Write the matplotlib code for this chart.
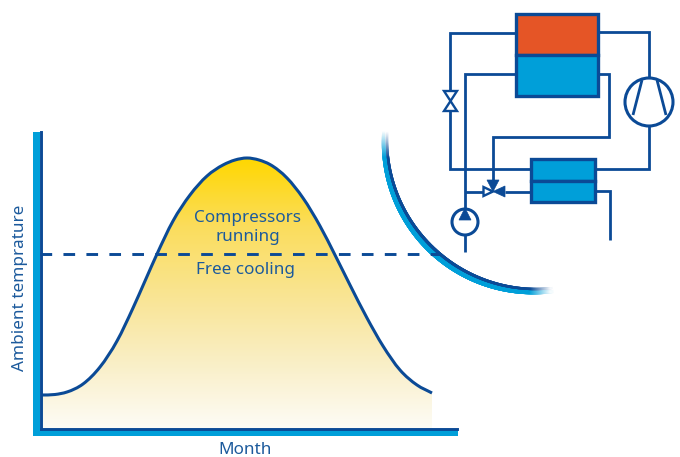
import matplotlib
matplotlib.use("Agg")
import matplotlib.pyplot as plt
import numpy as np
from matplotlib.collections import LineCollection
from matplotlib.colors import LinearSegmentedColormap, to_rgb
from matplotlib.patches import Circle, PathPatch, Polygon, Rectangle
from matplotlib.path import Path

DARK = "#0B4A96"
LIGHT = "#009FD9"
ORANGE = "#E55526"
TEXT = "#1C5A9C"

# curve: month position and height above the x axis (px units)
month = [0, 14, 26, 42, 59, 76, 92, 104, 116, 132, 149, 166, 182, 194, 206, 218, 229, 246,
         262, 279, 294, 309, 326, 342, 359, 376, 391]
temperature = [33.5, 34, 36.5, 44.5, 61.5, 87.5, 120.5, 147.5, 174.5, 207.5, 233.5, 252.5,
               263.5, 268.5, 270.5, 268.5, 264, 250.5, 230.5, 202.5, 173.5, 143.5, 110.5,
               82.5, 58.5, 43.5, 35.5]
threshold = 175

x_label = "Month"
y_label = "Ambient temprature"
upper_label = "Compressors"
upper_label_2 = "running"
lower_label = "Free cooling"


def smooth_path(xs, ys):
    # cubic pieces through the read points
    xs, ys = np.asarray(xs, float), np.asarray(ys, float)
    slope = np.gradient(ys, xs)
    verts = [(xs[0], ys[0])]
    codes = [Path.MOVETO]
    for i in range(len(xs) - 1):
        h = (xs[i + 1] - xs[i]) / 3
        verts += [(xs[i] + h, ys[i] + slope[i] * h),
                  (xs[i + 1] - h, ys[i + 1] - slope[i + 1] * h),
                  (xs[i + 1], ys[i + 1])]
        codes += [Path.CURVE4] * 3
    return verts, codes


fig = plt.figure(figsize=(6.8, 4.57), dpi=100)
W, H = 680, 457

# chart axes, origin at the inner corner of the axis bars
ax = fig.add_axes([41 / W, 1 - 428.5 / H, 416 / W, 296.5 / H])
ax.set_zorder(2)
ax.patch.set_alpha(0)
ax.set_xticks([])
ax.set_yticks([])
for s in ["top", "right"]:
    ax.spines[s].set_visible(False)
for s in ["left", "bottom"]:
    ax.spines[s].set_color(DARK)
    ax.spines[s].set_linewidth(2.1)
    ax.spines[s].set_zorder(5)

# yellow gradient below the curve
cmap = LinearSegmentedColormap.from_list(
    "sun", [(0, "#FFD700"), (0.25, "#FBDD5C"), (0.55, "#F9E69C"), (0.8, "#FAF1CF"), (1, "#FDFCF6")])
im = ax.imshow(np.linspace(0, 1, 256)[:, None], cmap=cmap, aspect="auto",
               extent=[0, 391, 0, max(temperature)], origin="upper", zorder=1)
verts, codes = smooth_path(month, temperature)
clip = PathPatch(Path(verts + [(391, 0), (0, 0), (0, 34)],
                      codes + [Path.LINETO, Path.LINETO, Path.LINETO]),
                 fc="none", ec="none", transform=ax.transData)
ax.add_patch(clip)
im.set_clip_path(clip)
ax.set_xlim(0, 416)
ax.set_ylim(0, 296.5)

ax.add_patch(PathPatch(Path(verts, codes), fc="none", ec=DARK, lw=2.2, capstyle="butt", zorder=3))
ax.plot([-1, 399], [threshold, threshold], color=DARK, lw=2.1, dashes=(4.0, 3.87), zorder=3,
        clip_on=False)

# overlay in image pixels for the axis bars, arc and circuit diagram
ov = fig.add_axes([0, 0, 1, 1])
ov.set_zorder(3)
ov.set_xlim(0, W)
ov.set_ylim(H, 0)
ov.axis("off")
ov.patch.set_alpha(0)

bars = fig.add_axes([0, 0, 1, 1])
bars.set_zorder(1)
bars.set_xlim(0, W)
bars.set_ylim(H, 0)
bars.axis("off")
bars.add_patch(Rectangle((33, 132), 6.7, 303.5, fc=LIGHT, ec="none"))
bars.add_patch(Rectangle((33, 430), 425, 5.5, fc=LIGHT, ec="none"))

# fading arc, blended into white at both ends
theta = np.radians(np.linspace(183, 84, 300))
fade = np.clip(np.minimum((theta[0] - theta) / np.radians(10),
                          (theta - theta[-1]) / np.radians(8)), 0, 1)
swell = np.sin(np.linspace(0, np.pi, 300))
for r, col, lw0, lw1, z in [(152.5, LIGHT, 2.2, 4.2, 4), (149, DARK, 1.6, 2.1, 5)]:
    pts = np.column_stack([536 + r * np.cos(theta), 140 + r * np.sin(theta)])
    segs = np.stack([pts[:-1], pts[1:]], axis=1)
    rgb = 1 - (1 - np.array(to_rgb(col)))[None, :] * fade[:-1, None]
    bars.add_collection(LineCollection(segs, colors=rgb, linewidths=lw0 + (lw1 - lw0) * swell[:-1],
                                       capstyle="projecting", zorder=z))

# circuit diagram
pipe = dict(color=DARK, lw=2.0, solid_joinstyle="miter", solid_capstyle="butt", zorder=3)
ov.plot([516, 450, 450, 531], [33, 33, 169, 169], **pipe)
ov.plot([516, 465, 465], [74, 74, 209], **pipe)
ov.plot([465, 465], [235, 252], **pipe)
ov.plot([598, 609, 609, 493, 493], [74, 74, 137, 137, 182], **pipe)
ov.plot([465, 483], [191.5, 191.5], **pipe)
ov.plot([505, 531], [191.5, 191.5], **pipe)
ov.plot([598, 649, 649], [32, 32, 78], **pipe)
ov.plot([649, 649, 595], [126, 169, 169], **pipe)
ov.plot([595, 610, 610], [191, 191, 240], **pipe)
ov.plot([642, 633], [80, 115], **pipe)
ov.plot([657, 666], [80, 115], **pipe)

box = dict(ec=DARK, lw=2.4, zorder=4, joinstyle="miter")
ov.add_patch(Rectangle((516, 14), 82, 41, fc=ORANGE, **box))
ov.add_patch(Rectangle((516, 55), 82, 41, fc=LIGHT, **box))
ov.add_patch(Rectangle((531, 159), 64, 22, fc=LIGHT, **box))
ov.add_patch(Rectangle((531, 181), 64, 21, fc=LIGHT, **box))

ov.add_patch(Circle((649, 102), 24, fc="none", ec=DARK, lw=2.2, zorder=4))
ov.add_patch(Circle((465, 222), 13, fc="none", ec=DARK, lw=2.2, zorder=4))
ov.add_patch(Polygon([(459, 220), (471, 220), (465, 208)], fc=DARK, ec=DARK, lw=0.5, zorder=4))

hollow = dict(fc="white", ec=DARK, lw=1.7, zorder=4, joinstyle="miter")
ov.add_patch(Polygon([(444, 91), (457, 91), (450.5, 101)], **hollow))
ov.add_patch(Polygon([(444, 111), (457, 111), (450.5, 101)], **hollow))
ov.add_patch(Polygon([(483.5, 187), (483.5, 196), (493, 191.5)], **hollow))
ov.add_patch(Polygon([(487, 180), (499, 180), (493, 191.5)], fc=DARK, ec=DARK, lw=0.5, zorder=4))
ov.add_patch(Polygon([(505, 186), (505, 197), (493, 191.5)], fc=DARK, ec=DARK, lw=0.5, zorder=4))

font = dict(family="Noto Sans", color=TEXT, ha="center", va="center", fontsize=12.3)
ov.text(247.5, 218, upper_label, **font)
ov.text(247.5, 237, upper_label_2, **font)
ov.text(246, 269.5, lower_label, **font)
ov.text(245.5, 450, x_label, **font)
ov.text(20, 288, y_label, rotation=90, **font)

fig.savefig("out.png", dpi=100)
